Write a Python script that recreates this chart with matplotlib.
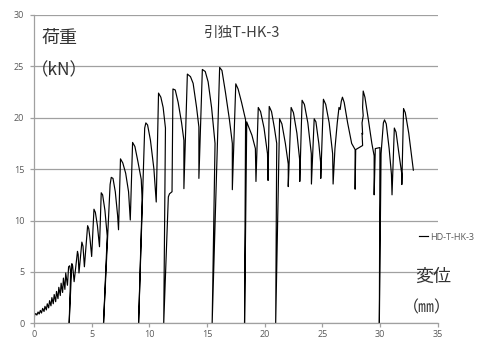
import matplotlib

matplotlib.use("Agg")
import matplotlib.pyplot as plt
import numpy as np

plt.rcParams["font.family"] = ["Noto Sans CJK JP", "DejaVu Sans"]

# load path (disp mm, load kN), split by stage of the test
stage1_x = [0.0, 0.05, 0.15, 0.25, 0.35, 0.45, 0.55, 0.65, 0.75, 0.87, 0.95, 1.07,
            1.15, 1.27, 1.35, 1.47, 1.55, 1.67, 1.75, 1.88, 1.95, 2.08, 2.15, 2.28,
            2.35, 2.48, 2.55, 2.68, 2.75, 2.9, 3.0, 3.1, 3.18, 3.05]
stage1_y = [0.0, 0.8, 0.95, 0.8, 1.1, 0.9, 1.25, 1.0, 1.45, 1.15, 1.65, 1.3,
            1.9, 1.5, 2.2, 1.7, 2.5, 1.9, 2.8, 2.1, 3.1, 2.4, 3.5, 2.7,
            3.9, 3.0, 4.4, 3.3, 4.9, 3.7, 5.5, 5.6, 5.0, 0.0]

stage2_x = [3.28, 3.35, 3.48, 3.77, 3.83, 3.9, 4.15, 4.25, 4.37, 4.65, 4.75, 4.85,
            5.0, 5.2, 5.32, 5.5, 5.68, 5.83, 5.95, 6.15, 6.35, 6.03, 6.37, 6.6,
            6.7, 6.85, 7.05, 7.25, 7.33, 7.5, 7.7, 7.95, 8.2, 8.35, 8.55, 8.75,
            9.0, 9.3, 9.38, 9.07]
stage2_y = [5.8, 5.6, 4.05, 7.0, 6.7, 4.9, 7.9, 7.5, 5.5, 9.5, 9.2, 8.3,
            6.5, 11.1, 10.8, 9.5, 7.45, 12.7, 12.5, 11.0, 8.5, 0.0, 8.1, 13.5,
            14.2, 14.1, 12.8, 10.5, 9.1, 16.0, 15.6, 14.6, 12.8, 10.05, 17.6, 17.2,
            15.8, 14.0, 12.0, 0.0]

stage3_x = [9.6, 9.7, 9.85, 10.1, 10.4, 10.6, 10.8, 11.0, 11.2, 11.4, 11.25,
            11.65, 11.75, 11.97, 12.0, 12.05, 12.25, 12.5, 12.8, 13.0, 13.0,
            13.3, 13.57, 13.8, 14.1, 14.3, 14.3, 14.6, 14.85, 15.1, 15.4, 15.7,
            15.45]
stage3_y = [19.0, 19.5, 19.3, 17.8, 15.0, 11.8, 22.4, 22.0, 21.0, 19.0, 0.0,
            12.3, 12.6, 12.8, 17.0, 22.8, 22.7, 21.5, 19.5, 17.8, 13.1,
            24.25, 24.0, 23.35, 21.0, 19.1, 14.1, 24.7, 24.5, 23.5, 21.0, 17.5,
            0.0]

stage4_x = [16.1, 16.3, 16.6, 16.95, 17.2, 17.2, 17.5, 17.7, 18.0, 18.35, 18.26,
            18.45, 18.55, 18.9, 19.2, 19.25, 19.45, 19.65, 19.95, 20.25, 20.3,
            20.4, 20.6, 20.85, 21.05, 20.96, 21.3, 21.5, 21.8, 22.05, 22.05,
            22.3, 22.5, 22.8, 23.05, 23.05, 23.25, 23.45, 23.75, 24.05, 24.06]
stage4_y = [24.9, 24.6, 22.5, 19.8, 17.5, 13.0, 23.3, 22.8, 21.5, 19.8, 0.0,
            19.6, 19.3, 18.3, 17.0, 13.8, 21.0, 20.6, 19.0, 16.5, 13.9,
            21.1, 20.6, 19.0, 17.5, 0.0, 19.9, 19.4, 17.5, 15.5, 13.3,
            21.0, 20.5, 18.5, 15.8, 13.8, 21.7, 21.3, 19.5, 16.5, 13.55]

stage5_x = [24.3, 24.45, 24.7, 24.87, 24.87, 25.1, 25.3, 25.6, 25.9, 25.94,
            26.1, 26.3, 26.45, 26.55, 26.65, 26.75, 26.9, 27.2, 27.55, 27.85,
            27.85, 27.9, 28.5, 28.45, 28.5, 28.45, 28.55, 28.5, 28.55, 28.7,
            29.0, 29.3, 29.5, 29.5, 29.6, 30.0, 30.0, 29.95, 30.1, 30.3, 30.4,
            30.55, 30.8, 31.0, 31.05, 31.25, 31.4, 31.65, 31.9, 31.9, 32.05,
            32.2, 32.5, 32.9]
stage5_y = [19.9, 19.6, 17.5, 15.5, 14.1, 21.8, 21.3, 19.5, 16.5, 13.55,
            17.0, 19.5, 21.0, 20.8, 21.6, 22.0, 21.5, 19.5, 17.5, 16.9,
            13.05, 16.9, 17.3, 18.5, 18.4, 19.5, 20.2, 21.0, 22.6, 22.0,
            19.8, 17.5, 16.3, 12.5, 17.0, 17.1, 15.9, 0.0, 16.5, 19.5, 19.8,
            19.4, 17.0, 14.5, 12.5, 19.0, 18.6, 16.5, 14.5, 13.5, 20.9,
            20.5, 18.5, 14.9]

disp = np.array(stage1_x + stage2_x + stage3_x + stage4_x + stage5_x)
load = np.array(stage1_y + stage2_y + stage3_y + stage4_y + stage5_y)

x_ticks = [0, 5, 10, 15, 20, 25, 30, 35]
y_ticks = [0, 5, 10, 15, 20, 25, 30]

fig = plt.figure(figsize=(4.81, 3.42), dpi=100)
ax = fig.add_axes([0.0707, 0.0547, 0.839, 0.9015])

grid_c = "#a0a0a0"
txt_c = "#595959"
ax.plot(disp, load, color="black", lw=0.85, label="HD-T-HK-3")

ax.set_xlim(0, 35)
ax.set_ylim(0, 30)
ax.set_xticks(x_ticks)
ax.set_yticks(y_ticks)
ax.yaxis.grid(True, color=grid_c, lw=0.9)
ax.set_axisbelow(True)
for side in ("top", "right"):
    ax.spines[side].set_visible(False)
for side in ("left", "bottom"):
    ax.spines[side].set_color(grid_c)
    ax.spines[side].set_linewidth(0.9)
ax.tick_params(axis="both", direction="out", length=3, width=0.9,
               color=grid_c, labelcolor=txt_c, labelsize=6.5)
ax.tick_params(axis="y", pad=4)
ax.tick_params(axis="x", pad=1.5)
for lab in ax.get_xticklabels() + ax.get_yticklabels():
    lab.set_family(["Open Sans", "DejaVu Sans"])

fig.text(242 / 481, 1 - 33 / 342, "引独T-HK-3", ha="center", va="center",
         fontsize=10.5, color="#404040")
fig.text(41 / 481, 1 - 38 / 342, "荷重", ha="left", va="center",
         fontsize=13, color="#333333")
fig.text(31 / 481, 1 - 70 / 342, "（kN）", ha="left", va="center",
         fontsize=12.5, color="#333333")
fig.text(415 / 481, 1 - 277 / 342, "変位", ha="left", va="center",
         fontsize=13, color="#333333")
fig.text(403 / 481, 1 - 308 / 342, "（㎜）", ha="left", va="center",
         fontsize=11.5, color="#333333")

ax.legend(loc="center left", bbox_to_anchor=(419 / 481, 1 - 237 / 342),
          bbox_transform=fig.transFigure, frameon=False,
          handlelength=1.0, handletextpad=0.2, borderpad=0, borderaxespad=0,
          labelcolor=txt_c, prop={"family": ["Open Sans", "DejaVu Sans"], "size": 6.5})

fig.savefig("out.png", dpi=100)
